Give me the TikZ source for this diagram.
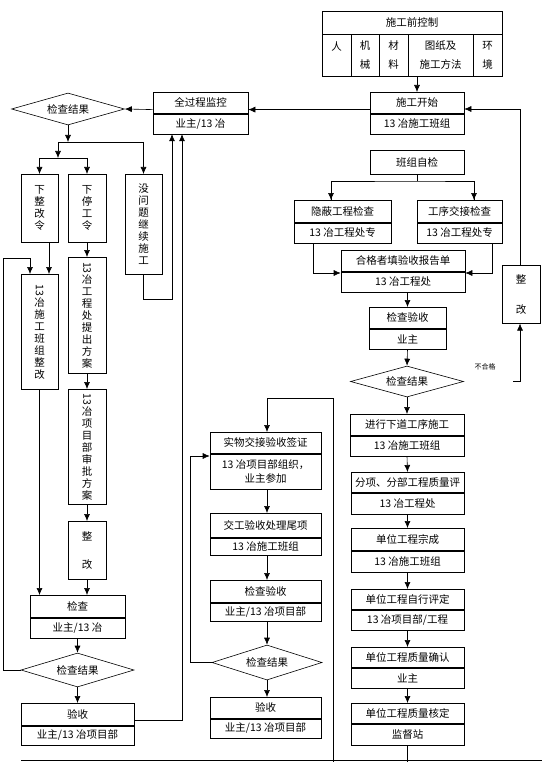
\documentclass[tikz,border=0pt]{standalone}
\usepackage{fontspec}
\usepackage{graphicx}
\setmainfont{Noto Sans CJK SC}
\usetikzlibrary{shapes.geometric,arrows.meta}
\newcommand{\rotnum}{\rotatebox[origin=c]{-90}{13}}

\begin{document}
\begin{tikzpicture}[
        x=1pt, y=-1pt,
        line width=0.6pt,
        font=\fontsize{10.5}{12}\selectfont
    ]
    \tikzset{
        headbox/.style = {rectangle, draw=black, align=center, inner sep=0pt, anchor=north},
        cellbox/.style = {rectangle, draw=black, align=center, inner sep=0pt, anchor=north, minimum height=42, font=\fontsize{10.5}{19}\selectfont},
        vertbox/.style = {rectangle, draw=black, align=center, inner sep=0pt, anchor=north, font=\fontsize{10.5}{12}\selectfont},
        checknode/.style = {diamond, draw=black, aspect=3.5, inner sep=1pt, minimum width=113, minimum height=32},
        arrow/.style = {-{Latex[length=7pt,width=6pt]}},
    }
    \useasboundingbox (0,0) rectangle (554,762);

    % top control box
    \node[headbox, minimum width=180, minimum height=23] (qian) at (412,11) {施工前控制};
    \node[cellbox, minimum width=29] (ren) at (336.5,34) {人\\\mbox{}};
    \node[cellbox, minimum width=28] (jixie) at (365,34) {机\\械};
    \node[cellbox, minimum width=29] (cailiao) at (393.5,34) {材\\料};
    \node[cellbox, minimum width=65] (tuzhi) at (440.5,34) {图纸及\\施工方法};
    \node[cellbox, minimum width=29] (huanjing) at (487.5,34) {环\\境};

    % right column
    \node[headbox, minimum width=94, minimum height=21] (kaishi) at (417,92) {施工开始};
    \node[headbox, minimum width=94, minimum height=20] (kaishi-b) at (kaishi.south) {13 冶施工班组};
    \node[headbox, minimum width=94, minimum height=24] (zijian) at (417,150) {班组自检};
    \node[headbox, minimum width=97, minimum height=22] (yinbi) at (342.5,200) {隐蔽工程检查};
    \node[headbox, minimum width=97, minimum height=20] (yinbi-b) at (yinbi.south) {13 冶工程处专};
    \node[headbox, minimum width=85, minimum height=22] (gongxu) at (459.5,200) {工序交接检查};
    \node[headbox, minimum width=85, minimum height=20] (gongxu-b) at (gongxu.south) {13 冶工程处专};
    \node[headbox, minimum width=124, minimum height=21] (hege) at (403,250) {合格者填验收报告单};
    \node[headbox, minimum width=124, minimum height=20] (hege-b) at (hege.south) {13 冶工程处};
    \node[headbox, minimum width=77, minimum height=21] (yanshouR) at (407.5,307) {检查验收};
    \node[headbox, minimum width=77, minimum height=20] (yanshouR-b) at (yanshouR.south) {业主};
    \node[checknode, minimum height=31] (jieguoR) at (407,381.5) {检查结果};
    \node[headbox, minimum width=114, minimum height=21] (jinxing) at (407,414) {进行下道工序施工};
    \node[headbox, minimum width=114, minimum height=20] (jinxing-b) at (jinxing.south) {13 冶施工班组};
    \node[headbox, minimum width=113, minimum height=20] (fenxiang) at (407.5,472) {分项、分部工程质量评};
    \node[headbox, minimum width=113, minimum height=21] (fenxiang-b) at (fenxiang.south) {13 冶工程处};
    \node[headbox, minimum width=113, minimum height=22] (wancheng) at (407.5,528) {单位工程宗成};
    \node[headbox, minimum width=113, minimum height=21] (wancheng-b) at (wancheng.south) {13 冶施工班组};
    \node[headbox, minimum width=113, minimum height=20] (pingding) at (407.5,589) {单位工程自行评定};
    \node[headbox, minimum width=113, minimum height=20] (pingding-b) at (pingding.south) {13 冶项目部/工程};
    \node[headbox, minimum width=113, minimum height=20] (queren) at (407.5,647) {单位工程质量确认};
    \node[headbox, minimum width=113, minimum height=20] (queren-b) at (queren.south) {业主};
    \node[headbox, minimum width=113, minimum height=20] (heding) at (407.5,703) {单位工程质量核定};
    \node[headbox, minimum width=113, minimum height=21] (heding-b) at (heding.south) {监督站};
    \node[vertbox, minimum width=38, minimum height=58] (zhenggaiR) at (521,265) {整\\[18pt]改};
    \node[font=\fontsize{7}{8}\selectfont] (buhege) at (485,367) {不合格};

    % middle column
    \node[headbox, minimum width=111, minimum height=21] (shiwu) at (265.5,432) {实物交接验收签证};
    \node[headbox, minimum width=111, minimum height=35, font=\fontsize{10.5}{14}\selectfont] (shiwu-b) at (shiwu.south) {13 冶项目部组织，\\业主参加};
    \node[headbox, minimum width=111, minimum height=24] (weixiang) at (265.5,513) {交工验收处理尾项};
    \node[headbox, minimum width=111, minimum height=17] (weixiang-b) at (weixiang.south) {13 冶施工班组};
    \node[headbox, minimum width=111, minimum height=22] (jianchaM) at (265.5,580) {检查验收};
    \node[headbox, minimum width=111, minimum height=18] (jianchaM-b) at (jianchaM.south) {业主/13 冶项目部};
    \node[checknode, minimum width=110, minimum height=35] (jieguoM) at (267,662.5) {检查结果};
    \node[headbox, minimum width=111, minimum height=21] (yanshouM) at (265.5,697) {验收};
    \node[headbox, minimum width=111, minimum height=19] (yanshouM-b) at (yanshouM.south) {业主/13 冶项目部};

    % left column
    \node[headbox, minimum width=95, minimum height=21] (jiankong) at (200.5,92) {全过程监控};
    \node[headbox, minimum width=95, minimum height=20] (jiankong-b) at (jiankong.south) {业主/13 冶};
    \node[checknode] (jieguoA) at (68,109) {检查结果};
    \node[vertbox, minimum width=37, minimum height=68] (xiazheng) at (39.5,174) {下\\整\\改\\令};
    \node[vertbox, minimum width=38, minimum height=68] (xiating) at (87,174) {下\\停\\工\\令};
    \node[vertbox, minimum width=37, minimum height=100] (meiwenti) at (143.5,174) {没\\问\\题\\继\\续\\施\\工};
    \node[vertbox, minimum width=37, minimum height=115] (banzu) at (39.5,274) {\rotnum\\冶\\施\\工\\班\\组\\整\\改};
    \node[vertbox, minimum width=38, minimum height=116] (fangan) at (87,257) {\rotnum\\冶\\工\\程\\处\\提\\出\\方\\案};
    \node[vertbox, minimum width=38, minimum height=115] (shenpi) at (87,389) {\rotnum\\冶\\项\\目\\部\\审\\批\\方\\案};
    \node[vertbox, minimum width=38, minimum height=58] (zhenggaiL) at (87,521) {整\\[16pt]改};
    \node[headbox, minimum width=95, minimum height=22] (jianchaL) at (77.5,595) {检查};
    \node[headbox, minimum width=95, minimum height=20] (jianchaL-b) at (jianchaL.south) {业主/13 冶};
    \node[checknode, minimum height=34] (jieguoL) at (77.5,670) {检查结果};
    \node[headbox, minimum width=113, minimum height=22] (yanshouL) at (77.5,703) {验收};
    \node[headbox, minimum width=113, minimum height=19] (yanshouL-b) at (yanshouL.south) {业主/13 冶项目部};

    % bend points
    \coordinate (splitA) at (68,142);
    \coordinate (splitB) at (58,158);
    \coordinate (loopL) at (3,258);
    \coordinate (upA) at (172,299);
    \coordinate (upB) at (182,720);
    \coordinate (splitR) at (417,181);
    \coordinate (joinR) at (313,273);
    \coordinate (failR) at (513,381.5);
    \coordinate (backR) at (520,109);
    \coordinate (baseL) at (21,760);
    \coordinate (baseR) at (542,760);
    \coordinate (turnM) at (333,398);
    \coordinate (loopM) at (190,456);

    % connectors, right side
    \draw[arrow] (kaishi.north |- tuzhi.south) -- (kaishi.north);
    \draw[arrow] ([yshift=4pt]kaishi.south west) -- ([yshift=4pt]jiankong.south east);
    \draw (zijian.south) -- (splitR);
    \draw (yinbi.north -| 331,0) |- (splitR) -| (474,200);
    \draw[arrow] (splitR -| 331,0) -- (yinbi.north -| 331,0);
    \draw[arrow] (splitR -| 474,0) -- (gongxu.north -| 474,0);
    \draw[arrow] (yinbi-b.south -| joinR) |- (hege-b.west |- joinR);
    \draw[arrow] (gongxu-b.south -| 492,0) |- (hege-b.east |- joinR);
    \draw[arrow] (hege-b.south -| yanshouR.north) -- (yanshouR.north);
    \draw[arrow] (yanshouR-b.south) -- (jieguoR.north);
    \draw[arrow] (jieguoR.south) -- (jinxing.north);
    \draw[arrow] (jinxing-b.south) -- (fenxiang.north);
    \draw[arrow] (fenxiang-b.south) -- (wancheng.north);
    \draw[arrow] (wancheng-b.south) -- (pingding.north);
    \draw[arrow] (pingding-b.south) -- (queren.north);
    \draw[arrow] (queren-b.south) -- (heding.north);
    \draw (heding-b.south) -- (heding-b.south |- 0,762);
    \draw[arrow] (failR) -| (zhenggaiR.south -| backR);
    \draw[arrow] (zhenggaiR.north -| backR) -- (backR) -- (kaishi.east |- backR);
    \draw (baseL) -- (baseR);

    % connectors, middle
    \draw[arrow] (turnM |- 0,762) -- (turnM) -| (shiwu.north -| jieguoM.north);
    \draw[arrow] (shiwu-b.south -| jieguoM.north) -- (weixiang.north -| jieguoM.north);
    \draw[arrow] (weixiang-b.south -| jieguoM.north) -- (jianchaM.north -| jieguoM.north);
    \draw[arrow] (jianchaM-b.south -| jieguoM.north) -- (jieguoM.north);
    \draw[arrow] (jieguoM.south) -- (yanshouM.north -| jieguoM.south);
    \draw[arrow] (jieguoM.west) -| (loopM) -- (shiwu-b.west |- loopM);

    % connectors, left side
    \draw[arrow] ([yshift=4pt]jiankong.south west) -- (jieguoA.east);
    \draw[arrow] (jieguoA.south) -- (splitA);
    \draw (splitA -| splitB) -- (splitA -| meiwenti.north);
    \draw[arrow] (splitA -| splitB) -- (splitB);
    \draw (splitB -| xiazheng.north) -- (splitB -| xiating.north);
    \draw[arrow] (splitB -| xiazheng.north) -- (xiazheng.north);
    \draw[arrow] (splitB -| xiating.north) -- (xiating.north);
    \draw[arrow] (splitA -| meiwenti.north) -- (meiwenti.north);
    \draw[arrow] (xiazheng.south -| 49,0) -- (banzu.north -| 49,0);
    \draw[arrow] (xiating.south) -- (fangan.north);
    \draw[arrow] (fangan.south) -- (shenpi.north);
    \draw[arrow] (shenpi.south) -- (zhenggaiL.north);
    \draw[arrow] (zhenggaiL.south) -- (jianchaL.north -| zhenggaiL.south);
    \draw[arrow] (banzu.south) -- (jianchaL.north -| banzu.south);
    \draw[arrow] (jianchaL-b.south) -- (jieguoL.north);
    \draw[arrow] (jieguoL.south) -- (yanshouL.north);
    \draw[arrow] (jieguoL.west) -| (loopL) -| (banzu.north -| 30,0);
    \draw[arrow] (meiwenti.south) |- (upA) -- (jiankong-b.south -| upA);
    \draw[arrow] (yanshouL-b.north east |- upB) -- (upB) -- (jiankong-b.south -| upB);
\end{tikzpicture}
\end{document}
